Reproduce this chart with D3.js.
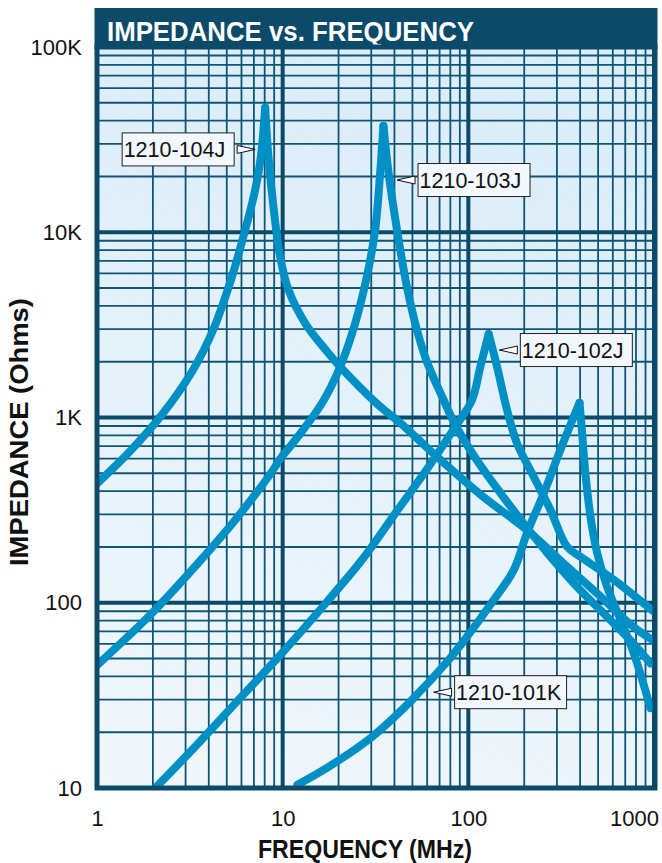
<!DOCTYPE html>
<html><head><meta charset="utf-8">
<script src="https://cdn.jsdelivr.net/npm/d3@7"></script>
<style>
body{margin:0;background:#fff}
svg{display:block}
text{font-family:"Liberation Sans",Arial,Helvetica,sans-serif}
</style>
</head><body>
<svg id="c" width="662" height="863"></svg>
<script>
// ---------- data ----------
const chartTitle = "IMPEDANCE vs. FREQUENCY";
const xTitle = "FREQUENCY (MHz)";
const yTitle = "IMPEDANCE (Ohms)";
const xTicks = [1, 10, 100, 1000];
const xTickLabels = ["1", "10", "100", "1000"];
const yTicks = [10, 100, 1000, 10000, 100000];
const yTickLabels = ["10", "100", "1K", "10K", "100K"];
const seriesNames = ["1210-104J", "1210-103J", "1210-102J", "1210-101K"];

// [frequency MHz, impedance Ohms]
const s104J = [[1,440],[1.475,643],[2.23,1031],[3.24,1760],[4.22,2967],[5.33,5754],[6.28,10280],[7.11,16900],[7.63,25580],[8.05,47000],[8.38,25580],[8.92,13740],[9.69,7380],[10.75,4880],[13.2,3236],[17.6,2230],[20.4,1880],[32.8,1168],[43,934],[58.6,702],[67.8,614],[120,374],[207,247],[340,157],[515,108],[775,74],[980,63]];
const s103J = [[1,46],[1.89,84],[3.375,157],[5.55,280],[8.38,479],[9.9,614],[11.7,756],[16.3,1197],[20.4,1880],[24.6,3236],[28.4,5754],[31.5,10280],[33.5,20890],[34.9,37500],[37.2,20880],[41.3,10280],[46.7,5064],[52.9,2967],[59.9,1993],[73.6,1243],[85.1,911],[111,590],[149,391],[198,269],[266,186],[385,122],[559,84],[778,60],[958,47]];
const s102J = [[1.9,9.2],[3.375,16.7],[5.78,29.9],[9.9,53.4],[17.65,103.5],[26.7,170],[40.4,304],[61.1,542],[85.1,892],[104.7,1243],[116,1880],[128.7,2820],[142.8,1880],[161.7,1098],[183,725],[225,479],[277,317],[340,201],[402,177],[607,133],[990,90]];
const s101K = [[12,10.4],[17.65,13],[30.3,18.9],[49.7,29.9],[78.3,49.1],[98.4,65.6],[136.9,103.5],[175.5,150],[207,238],[255,390],[313,667],[397,1200],[410,825],[427,501],[455,291],[494,186],[559,122],[660,81],[778,53.4],[958,27]];
const seriesData = [s104J, s103J, s102J, s101K];

// annotation arrow tips [frequency, impedance] and box side
const labelTips = [[7.11, 28000], [41.3, 19140], [146.9, 2313], [65.0, 32.9]];
const labelSides = ["left", "right", "right", "right"];

// ---------- layout ----------
const svg = d3.select("#c");
const L = 97, R = 654, T = 47, B = 788;
const x = d3.scaleLog().domain([1, 1000]).range([L, R]);
const y = d3.scaleLog().domain([10, 100000]).range([B, T]);

const gridColor = "#0f5676";
const frameColor = "#0b4a68";
const curveColor = "#0090c6";

const defs = svg.append("defs");
const grad = defs.append("linearGradient").attr("id","bg").attr("x1",0.2).attr("y1",0).attr("x2",0).attr("y2",1);
grad.append("stop").attr("offset","0%").attr("stop-color","#dbedf9");
grad.append("stop").attr("offset","100%").attr("stop-color","#f0f7fc");
const pat = defs.append("pattern").attr("id","stripes").attr("width",14).attr("height",14)
  .attr("patternUnits","userSpaceOnUse").attr("patternTransform","rotate(-45)");
pat.append("line").attr("x1",0).attr("y1",0).attr("x2",0).attr("y2",14)
  .attr("stroke","#ffffff").attr("stroke-width",1.2).attr("stroke-opacity",0.25);
defs.append("clipPath").attr("id","plotclip").append("rect")
  .attr("x",L).attr("y",T).attr("width",R+1-L).attr("height",B-T);

// banner
svg.append("rect").attr("x",L-2.5).attr("y",8).attr("width",R+1-L+5).attr("height",T-8+2)
  .attr("fill",frameColor);
svg.append("text").attr("x",107).attr("y",41).attr("fill","#ffffff")
  .attr("font-weight","bold").attr("font-size",28)
  .attr("textLength",367).attr("lengthAdjust","spacingAndGlyphs")
  .text(chartTitle);

// plot background
svg.append("rect").attr("x",L).attr("y",T).attr("width",R+1-L).attr("height",B-T).attr("fill","url(#bg)");
svg.append("rect").attr("x",L).attr("y",T).attr("width",R+1-L).attr("height",B-T).attr("fill","url(#stripes)");

// grid
const grid = svg.append("g");
const xMinor = [], yMinor = [];
[1,10,100].forEach(d => { for (let m=2;m<=9;m++) xMinor.push(d*m); });
[10,100,1000,10000].forEach(d => { for (let m=2;m<=9;m++) yMinor.push(d*m); });
grid.selectAll(".vx").data(xMinor).join("line")
  .attr("x1",d=>x(d)).attr("x2",d=>x(d)).attr("y1",T).attr("y2",B)
  .attr("stroke",gridColor).attr("stroke-width",1.8);
grid.selectAll(".hy").data(yMinor).join("line")
  .attr("y1",d=>y(d)).attr("y2",d=>y(d)).attr("x1",L).attr("x2",R+1)
  .attr("stroke",gridColor).attr("stroke-width",1.8);
grid.selectAll(".vX").data(xTicks).join("line")
  .attr("x1",d=>x(d)).attr("x2",d=>x(d)).attr("y1",T).attr("y2",B)
  .attr("stroke",frameColor).attr("stroke-width",4);
grid.selectAll(".hY").data(yTicks).join("line")
  .attr("y1",d=>y(d)).attr("y2",d=>y(d)).attr("x1",L).attr("x2",R+1)
  .attr("stroke",frameColor).attr("stroke-width",4);

// curves (split at resonance peak so it stays a sharp cusp)
const line = d3.line().x(d=>x(d[0])).y(d=>y(d[1])).curve(d3.curveCatmullRom.alpha(0.5));
const curves = svg.append("g").attr("clip-path","url(#plotclip)");
seriesData.forEach((s,i) => {
  const pk = d3.maxIndex(s, d=>d[1]);
  [s.slice(0,pk+1), s.slice(pk)].forEach(part => {
    curves.append("path").attr("d",line(part)).attr("fill","none")
      .attr("stroke",curveColor).attr("stroke-width",8)
      .attr("stroke-linecap","round").attr("stroke-linejoin","round");
  });
});

// frame
svg.append("rect").attr("x",L).attr("y",T).attr("width",R+1-L).attr("height",B-T)
  .attr("fill","none").attr("stroke",frameColor).attr("stroke-width",5);

// axes
const xAxis = svg.append("g").attr("transform",`translate(0,${B})`)
  .call(d3.axisBottom(x).tickValues(xTicks).tickFormat((d,i)=>xTickLabels[i]).tickSize(0).tickPadding(22));
const yAxis = svg.append("g").attr("transform",`translate(${L},0)`)
  .call(d3.axisLeft(y).tickValues(yTicks).tickFormat((d,i)=>yTickLabels[i]).tickSize(0).tickPadding(15));
[xAxis,yAxis].forEach(a => {
  a.select(".domain").remove();
  a.selectAll("text").attr("font-size",22).attr("fill","#111")
    .attr("font-family",'"Liberation Sans",Arial,sans-serif');
});
xAxis.selectAll("text").filter((d,i)=>i===xTicks.length-1).attr("text-anchor","end").attr("dx","0.2em");

svg.append("text").attr("x",365).attr("y",858).attr("text-anchor","middle")
  .attr("font-weight","bold").attr("font-size",25).attr("fill","#111")
  .attr("textLength",214).attr("lengthAdjust","spacingAndGlyphs").text(xTitle);
svg.append("text").attr("transform","translate(28,432) rotate(-90)").attr("text-anchor","middle")
  .attr("font-weight","bold").attr("font-size",25).attr("fill","#111")
  .attr("textLength",268).attr("lengthAdjust","spacingAndGlyphs").text(yTitle);

// annotations
const ann = svg.append("g");
const arrowLen = 18, gap = 3, boxW = 112, boxH = 33;
labelTips.forEach((t,i) => {
  const tx = x(t[0]), ty = y(t[1]);
  const dir = labelSides[i] === "left" ? -1 : 1;
  const bx = tx + dir*arrowLen;
  ann.append("path")
    .attr("d", `M${tx},${ty} L${bx},${ty-4} L${bx},${ty+4} Z`)
    .attr("fill","#ffffff").attr("stroke","#111").attr("stroke-width",1);
  const boxX = dir < 0 ? bx - gap - boxW : bx + gap;
  ann.append("rect").attr("x",boxX).attr("y",ty-boxH/2).attr("width",boxW).attr("height",boxH)
    .attr("fill","#f2f8fd").attr("stroke","#222").attr("stroke-width",1);
  ann.append("text").attr("x",boxX+1.5).attr("y",ty+8).attr("font-size",21.5).attr("fill","#111")
    .text(seriesNames[i]);
});
</script>
</body></html>
